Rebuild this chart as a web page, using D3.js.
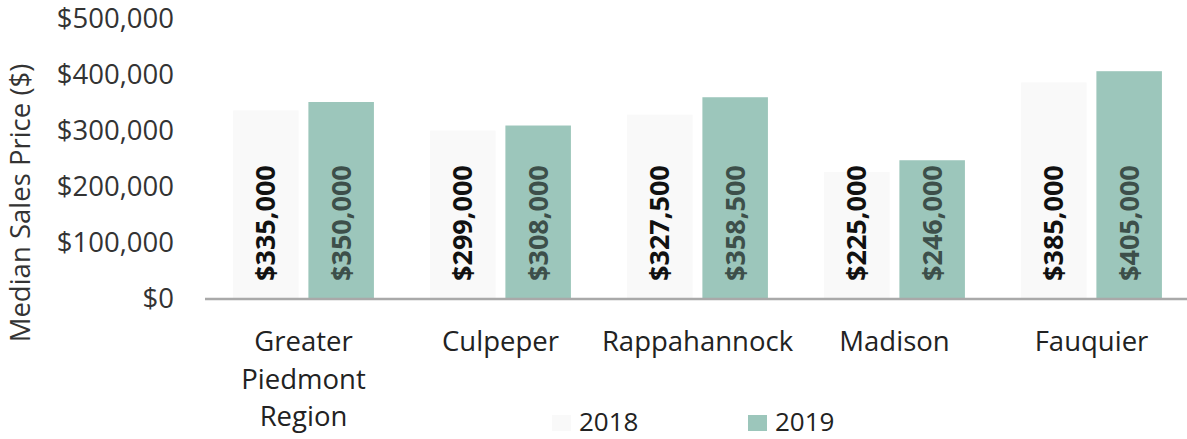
<!DOCTYPE html>
<html><head><meta charset="utf-8">
<script src="https://cdn.jsdelivr.net/npm/d3@7"></script>
<style>body{margin:0;background:#fff;}text{font-family:"Open Sans",sans-serif;}</style>
</head><body>
<svg id="c" width="1187" height="439"></svg>
<script>
const categories = [["Greater","Piedmont","Region"],["Culpeper"],["Rappahannock"],["Madison"],["Fauquier"]];
const seriesNames = ["2018","2019"];
const values2018 = [335000, 299000, 327500, 225000, 385000];
const values2019 = [350000, 308000, 358500, 246000, 405000];
const yTicks = [0, 100000, 200000, 300000, 400000, 500000];
const colors = ["#f9f9f9", "#9cc6bb"];

const svg = d3.select("#c");
const keys = categories.map(c => c.join(" "));
const x = d3.scaleBand().domain(keys).range([205, 1190]).paddingInner(0.285).paddingOuter(0.1425);
const xs = d3.scaleBand().domain(seriesNames).range([0, x.bandwidth()]).paddingInner(0.13);
const y = d3.scaleLinear().domain([0, 500000]).range([298, 18]);
const fmt = v => "$" + d3.format(",")(v);

// y tick labels
svg.append("g").selectAll("text").data(yTicks).join("text")
  .attr("x", 174).attr("y", d => y(d)).attr("dy", "0.35em")
  .attr("text-anchor", "end").attr("font-size", 27.5).attr("fill", "#333")
  .text(fmt);

// y title
svg.append("text").attr("transform", "translate(20,203) rotate(-90)")
  .attr("text-anchor", "middle").attr("dy", "0.35em").attr("font-size", 27.5).attr("fill", "#333")
  .text("Median Sales Price ($)");

const data = seriesNames.map((s, si) => ({s, si, vals: si === 0 ? values2018 : values2019}));
const g = svg.append("g");
data.forEach(d => {
  g.selectAll(null).data(d.vals).join("rect")
    .attr("x", (v, i) => x(keys[i]) + xs(d.s))
    .attr("width", xs.bandwidth())
    .attr("y", v => y(v)).attr("height", v => y(0) - y(v))
    .attr("fill", colors[d.si]);
});

// axis line
svg.append("line").attr("x1", 205).attr("x2", 1187).attr("y1", y(0)+1).attr("y2", y(0)+1)
  .attr("stroke", "#a9a9a9").attr("stroke-width", 2.5);

// value labels
data.forEach(d => {
  g.selectAll(null).data(d.vals).join("text")
    .attr("transform", (v, i) => `translate(${x(keys[i]) + xs(d.s) + xs.bandwidth()/2},${y(0) - 17}) rotate(-90)`)
    .attr("dy", "0.35em").attr("text-anchor", "start")
    .attr("font-size", 27).attr("font-weight", "bold")
    .attr("fill", d.si === 0 ? "#111" : "#3d4f4a")
    .text(fmt);
});

// category labels
categories.forEach((lines, i) => {
  const t = svg.append("text").attr("x", x(keys[i]) + x.bandwidth()/2).attr("y", 351)
    .attr("text-anchor", "middle").attr("font-size", 27.5).attr("fill", "#222");
  lines.forEach((l, j) => t.append("tspan").attr("x", x(keys[i]) + x.bandwidth()/2).attr("dy", j ? 37.5 : 0).text(l));
});

// legend
const legX = [552, 748];
seriesNames.forEach((s, i) => {
  svg.append("rect").attr("x", legX[i]).attr("y", 415).attr("width", 19).attr("height", 16).attr("fill", colors[i]);
  svg.append("text").attr("x", legX[i] + 27).attr("y", 431)
    .attr("font-size", 26).attr("fill", "#222").text(s);
});
</script>
</body></html>
